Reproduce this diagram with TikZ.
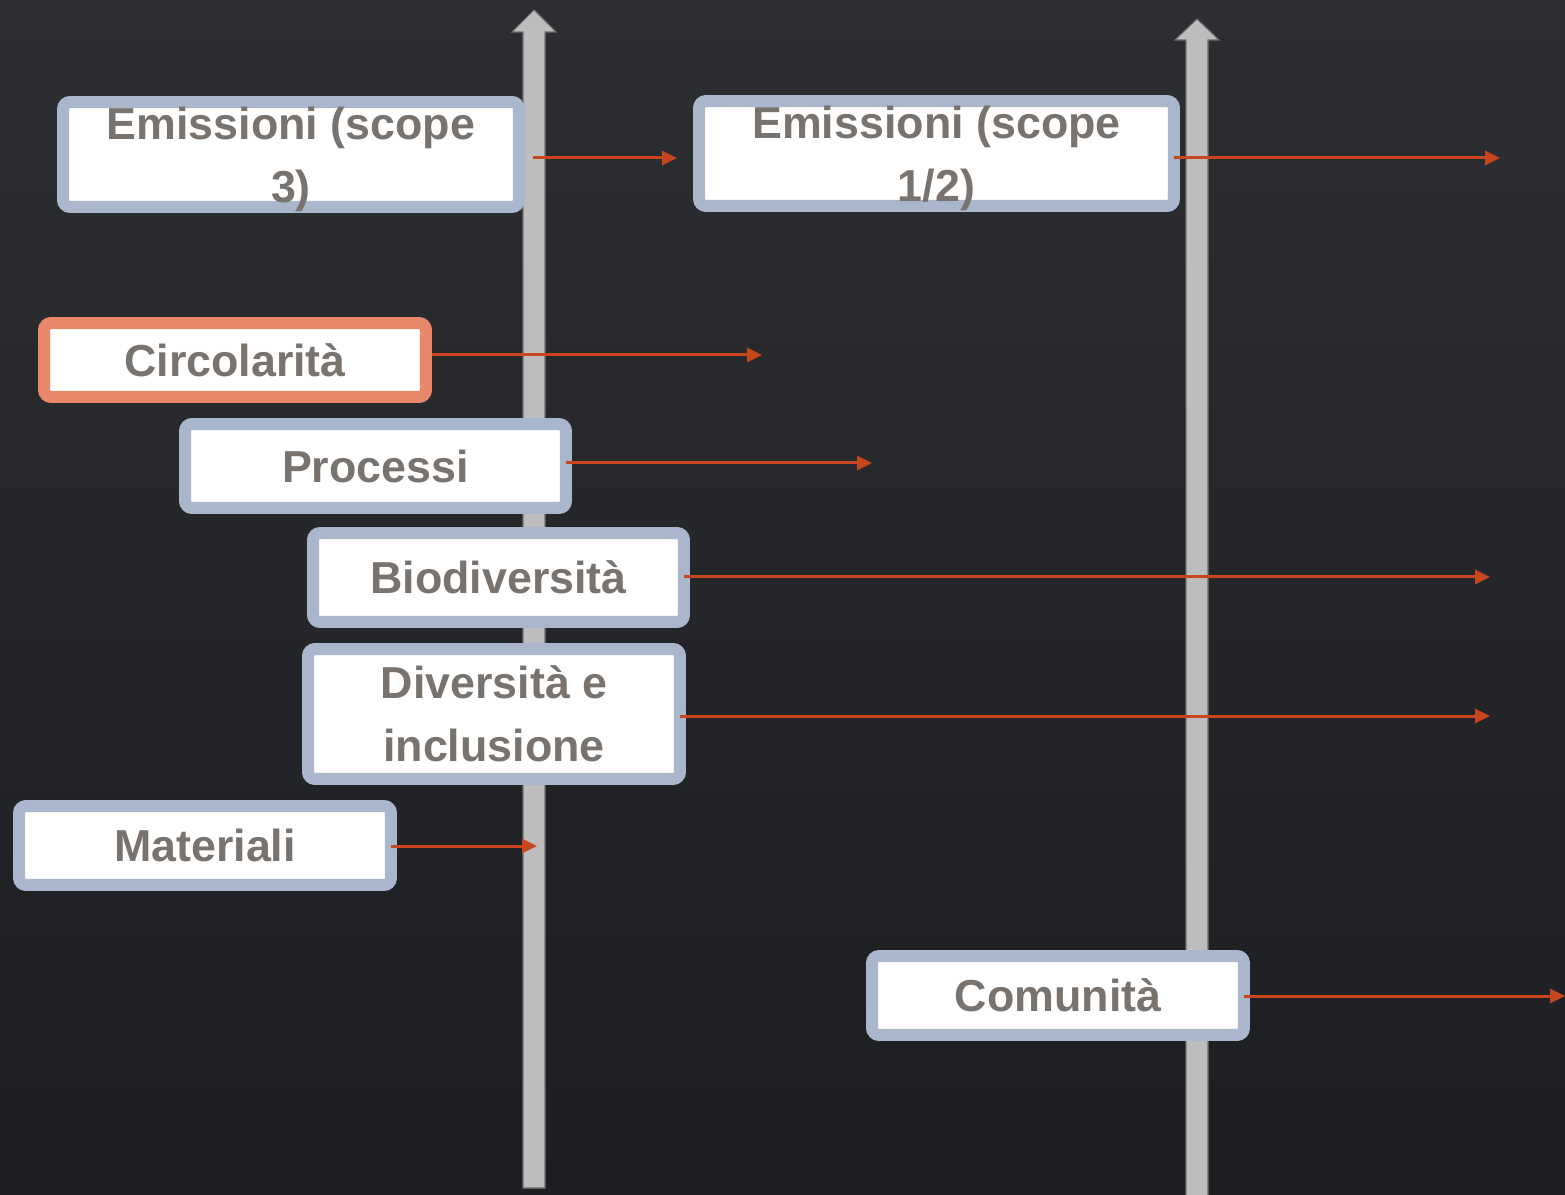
\documentclass[tikz,border=0pt]{standalone}
\usepackage{fontspec}
\setmainfont{Liberation Sans}
\usetikzlibrary{arrows.meta,positioning}
\usepackage{xcolor}
\definecolor{bgtop}{HTML}{2D2E32}
\definecolor{bgbottom}{HTML}{1D1E22}
\definecolor{axisgray}{HTML}{BDBDBD}
\definecolor{axisedge}{HTML}{6E6E6E}
\definecolor{steel}{HTML}{AAB6CB}
\definecolor{salmon}{HTML}{E8876A}
\definecolor{rust}{HTML}{C8461E}
\definecolor{txtgray}{HTML}{78736F}

\begin{document}
\begin{tikzpicture}[
  x=0.02cm, y=-0.02cm,
  every node/.style={font=\bfseries\fontsize{25.5pt}{35.7pt}\selectfont, text=txtgray},
  topic/.style={rectangle, draw=steel, fill=white, line width=0.24cm,
                rounded corners=4pt, inner sep=0pt, outer sep=0pt,
                align=center, text height=23pt, text depth=4.6pt},
  focus/.style={topic, draw=salmon},
  overtext/.style={align=center, inner sep=0pt, yshift=-0.1cm},
  axis/.style={fill=axisgray, draw=axisedge, line width=0.6pt},
  arr/.style={-{Triangle[length=0.3cm, width=0.28cm]}, draw=rust, line width=0.06cm},
]
\fill[top color=bgtop, bottom color=bgbottom] (0,0) rectangle (1565,1195);
\useasboundingbox (0,0) rectangle (1565,1195);

\draw[axis] (523,1188) -- (523,32) -- (512,32) -- (534,10) -- (556,32)
  -- (545,32) -- (545,1188) -- cycle;
\draw[axis] (1186,1200) -- (1186,40) -- (1175,40) -- (1197,19) -- (1219,40)
  -- (1208,40) -- (1208,1200) -- cycle;

\node[topic, minimum width=9.12cm, minimum height=2.1cm,
      label={[overtext]center:Emissioni (scope\\3)}] (E3) at (291,154.5) {};
\node[topic, minimum width=9.5cm, minimum height=2.1cm,
      label={[overtext]center:Emissioni (scope\\1/2)}] (E12) at (936.5,153.5) {};
\node[focus, minimum width=7.64cm, minimum height=1.48cm] (C) at (235,360) {Circolarità};
\node[topic, minimum width=7.62cm, minimum height=1.68cm] (P) at (375.5,466) {Processi};
\node[topic, minimum width=7.42cm, minimum height=1.78cm] (B) at (498.5,577.5) {Biodiversità};
\node[topic, minimum width=7.44cm, minimum height=2.6cm,
      text height=, text depth=] (D) at (494,714) {Diversità e\\inclusione};
\node[topic, minimum width=7.44cm, minimum height=1.58cm] (M) at (205,845.5) {Materiali};
\node[topic, minimum width=7.44cm, minimum height=1.58cm] (Co) at (1058,995.5) {Comunità};

\coordinate (E3end) at (677,158);
\coordinate (E12end) at (1500,158);
\coordinate (Cend) at (762,355);
\coordinate (Pend) at (872,463);
\coordinate (Bend) at (1490,577);
\coordinate (Dend) at (1490,716);
\coordinate (Mend) at (537,846);
\coordinate (Coend) at (1565,996);

\draw[arr, shorten <=0.28cm] (E3.east |- E3end) -- (E3end);
\draw[arr] (E12.east |- E12end) -- (E12end);
\draw[arr, shorten <=0.12cm] (C.east |- Cend) -- (Cend);
\draw[arr] (P.east |- Pend) -- (Pend);
\draw[arr] (B.east |- Bend) -- (Bend);
\draw[arr] (D.east |- Dend) -- (Dend);
\draw[arr] (M.east |- Mend) -- (Mend);
\draw[arr] (Co.east |- Coend) -- (Coend);
\end{tikzpicture}
\end{document}
